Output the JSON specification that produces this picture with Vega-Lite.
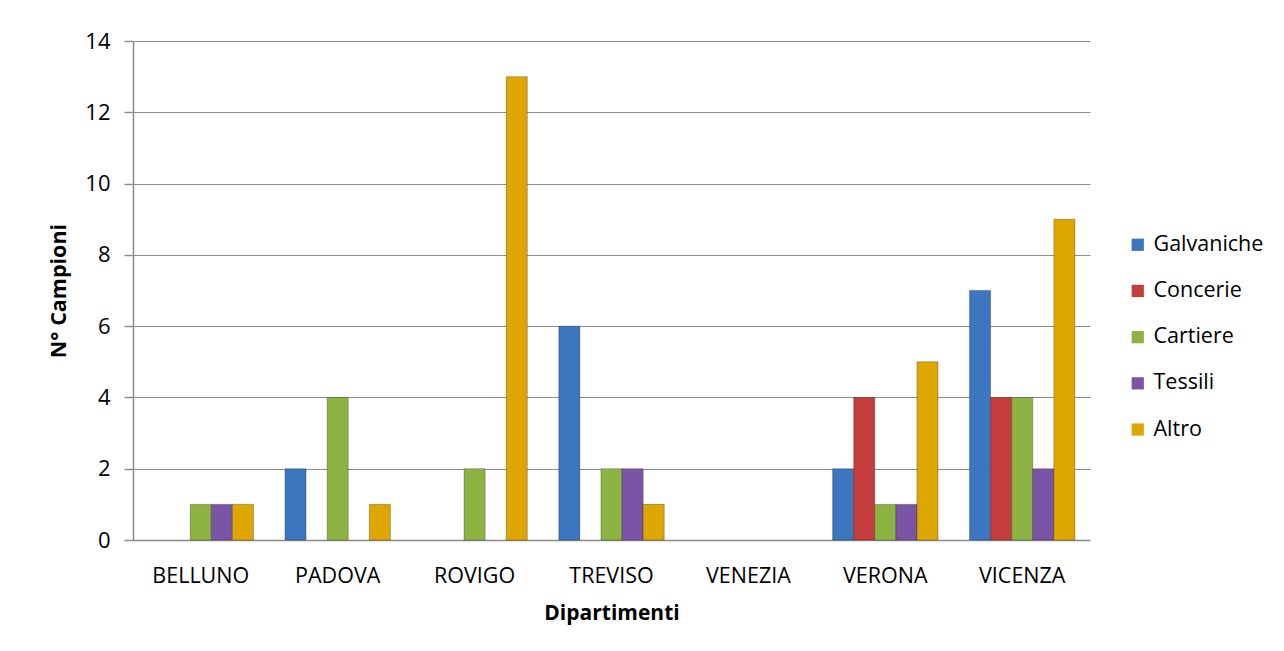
{
  "$schema": "https://vega.github.io/schema/vega-lite/v6.json",
  "autosize": {"type": "none"},
  "width": 957,
  "height": 499,
  "padding": {"left": 133, "top": 41, "right": 194, "bottom": 111},
  "background": "white",
  "config": {
    "font": "Open Sans",
    "view": {"stroke": null},
    "axis": {"labelFont": "Open Sans", "titleFont": "Open Sans"}
  },
  "data": {
    "values": [
      {"dip": "BELLUNO", "tipo": "Galvaniche", "n": 0},
      {"dip": "BELLUNO", "tipo": "Concerie", "n": 0},
      {"dip": "BELLUNO", "tipo": "Cartiere", "n": 1},
      {"dip": "BELLUNO", "tipo": "Tessili", "n": 1},
      {"dip": "BELLUNO", "tipo": "Altro", "n": 1},
      {"dip": "PADOVA", "tipo": "Galvaniche", "n": 2},
      {"dip": "PADOVA", "tipo": "Concerie", "n": 0},
      {"dip": "PADOVA", "tipo": "Cartiere", "n": 4},
      {"dip": "PADOVA", "tipo": "Tessili", "n": 0},
      {"dip": "PADOVA", "tipo": "Altro", "n": 1},
      {"dip": "ROVIGO", "tipo": "Galvaniche", "n": 0},
      {"dip": "ROVIGO", "tipo": "Concerie", "n": 0},
      {"dip": "ROVIGO", "tipo": "Cartiere", "n": 2},
      {"dip": "ROVIGO", "tipo": "Tessili", "n": 0},
      {"dip": "ROVIGO", "tipo": "Altro", "n": 13},
      {"dip": "TREVISO", "tipo": "Galvaniche", "n": 6},
      {"dip": "TREVISO", "tipo": "Concerie", "n": 0},
      {"dip": "TREVISO", "tipo": "Cartiere", "n": 2},
      {"dip": "TREVISO", "tipo": "Tessili", "n": 2},
      {"dip": "TREVISO", "tipo": "Altro", "n": 1},
      {"dip": "VENEZIA", "tipo": "Galvaniche", "n": 0},
      {"dip": "VENEZIA", "tipo": "Concerie", "n": 0},
      {"dip": "VENEZIA", "tipo": "Cartiere", "n": 0},
      {"dip": "VENEZIA", "tipo": "Tessili", "n": 0},
      {"dip": "VENEZIA", "tipo": "Altro", "n": 0},
      {"dip": "VERONA", "tipo": "Galvaniche", "n": 2},
      {"dip": "VERONA", "tipo": "Concerie", "n": 4},
      {"dip": "VERONA", "tipo": "Cartiere", "n": 1},
      {"dip": "VERONA", "tipo": "Tessili", "n": 1},
      {"dip": "VERONA", "tipo": "Altro", "n": 5},
      {"dip": "VICENZA", "tipo": "Galvaniche", "n": 7},
      {"dip": "VICENZA", "tipo": "Concerie", "n": 4},
      {"dip": "VICENZA", "tipo": "Cartiere", "n": 4},
      {"dip": "VICENZA", "tipo": "Tessili", "n": 2},
      {"dip": "VICENZA", "tipo": "Altro", "n": 9}
    ]
  },
  "mark": {"type": "bar", "stroke": "#00000040", "strokeWidth": 1},
  "encoding": {
    "x": {
      "field": "dip",
      "type": "nominal",
      "sort": null,
      "scale": {"paddingInner": 0.23, "paddingOuter": 0.11},
      "axis": {
        "title": "Dipartimenti",
        "titleFontSize": 21,
        "titleFontWeight": "bold",
        "titleColor": "#000",
        "titlePadding": 16,
        "labelAngle": 0,
        "labelFontSize": 21.5,
        "labelColor": "#000",
        "labelPadding": 25,
        "ticks": false,
        "domainColor": "#8c8c8c",
        "domainWidth": 1.5
      }
    },
    "xOffset": {
      "field": "tipo",
      "type": "nominal",
      "sort": ["Galvaniche", "Concerie", "Cartiere", "Tessili", "Altro"],
      "scale": {"paddingInner": 0, "paddingOuter": 0}
    },
    "y": {
      "field": "n",
      "type": "quantitative",
      "scale": {"domain": [0, 14], "nice": false},
      "axis": {
        "title": "N° Campioni",
        "titleFontSize": 21.5,
        "titleFontWeight": "bold",
        "titleColor": "#000",
        "titlePadding": 14,
        "values": [0, 2, 4, 6, 8, 10, 12, 14],
        "labelFontSize": 22,
        "labelColor": "#000",
        "labelPadding": 14,
        "tickSize": 9,
        "tickColor": "#8c8c8c",
        "tickWidth": 1.5,
        "domainColor": "#8c8c8c",
        "domainWidth": 1.5,
        "grid": true,
        "gridColor": "#8c8c8c",
        "gridWidth": 1.2
      }
    },
    "strokeOpacity": {
      "condition": {"test": "datum.n === 0", "value": 0},
      "value": 1
    },
    "color": {
      "field": "tipo",
      "type": "nominal",
      "sort": ["Galvaniche", "Concerie", "Cartiere", "Tessili", "Altro"],
      "scale": {
        "domain": ["Galvaniche", "Concerie", "Cartiere", "Tessili", "Altro"],
        "range": ["#3B76BE", "#C43C3C", "#8DB443", "#7A55A5", "#DDA600"]
      },
      "legend": {
        "title": null,
        "orient": "none",
        "legendX": 994,
        "legendY": 193,
        "symbolType": "square",
        "symbolSize": 150,
        "symbolStrokeWidth": 0,
        "labelFontSize": 21.5,
        "labelColor": "#000",
        "rowPadding": 23.2,
        "labelOffset": 5
      }
    }
  }
}
